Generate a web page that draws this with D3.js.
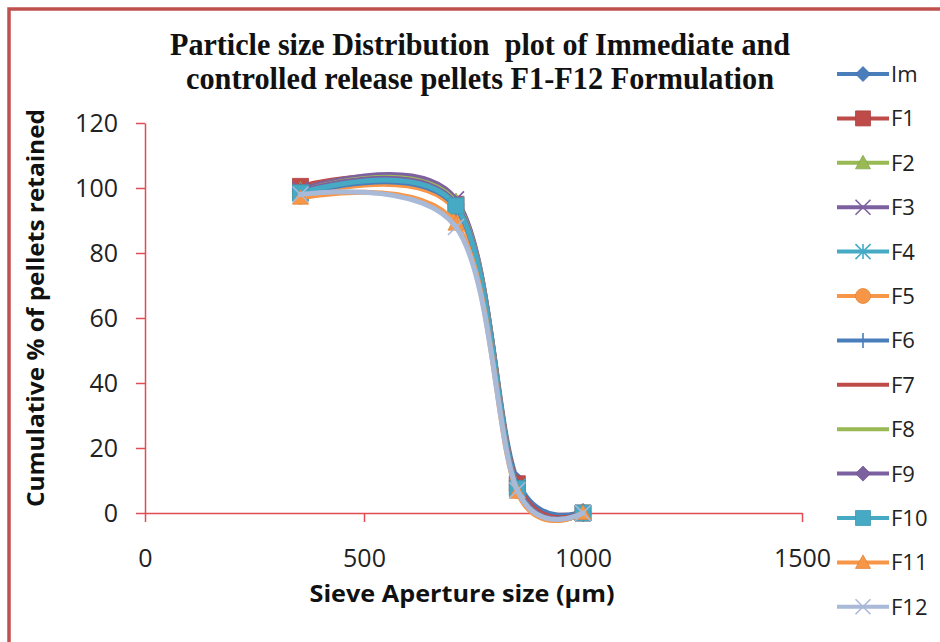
<!DOCTYPE html>
<html>
<head>
<meta charset="utf-8">
<script src="https://cdn.jsdelivr.net/npm/d3@7/dist/d3.min.js"></script>
<style>
  html, body { margin: 0; padding: 0; background: #fff; }
  svg { display: block; }
</style>
</head>
<body>
<svg id="chart" width="940" height="642"></svg>
<script>
// Sieve apertures (µm) and cumulative % retained for each formulation
const sieveSizes = [355, 710, 850, 1000];
const retainedIm  = [99.0, 95.0, 10.0, 0.5];
const retainedF1  = [100.5, 95.0, 9.0, 0];
const retainedF2  = [99.5, 96.0, 8.0, 0];
const retainedF3  = [99.5, 96.5, 8.0, 0];
const retainedF4  = [98.5, 95.0, 8.0, 0];
const retainedF5  = [97.5, 93.0, 7.0, 0];
const retainedF6  = [98.0, 94.0, 8.0, 0];
const retainedF7  = [99.0, 95.0, 8.0, 0];
const retainedF8  = [99.0, 95.5, 8.0, 0];
const retainedF9  = [99.0, 95.0, 8.0, 0];
const retainedF10 = [98.5, 94.5, 7.5, 0];
const retainedF11 = [97.0, 89.0, 6.5, 0];
const retainedF12 = [98.0, 88.0, 7.0, 0];

const seriesNames  = ["Im", "F1", "F2", "F3", "F4", "F5", "F6", "F7", "F8", "F9", "F10", "F11", "F12"];
const seriesValues = [retainedIm, retainedF1, retainedF2, retainedF3, retainedF4, retainedF5,
                      retainedF6, retainedF7, retainedF8, retainedF9, retainedF10, retainedF11, retainedF12];
const seriesColors = ["#4a7ebb", "#be4b48", "#98b954", "#7d60a0", "#46aac5", "#f79646",
                      "#4a7ebb", "#be4b48", "#98b954", "#7d60a0", "#46aac5", "#f79646", "#a9b9d8"];
const seriesMarkers = ["diamond", "square", "triangle", "x", "star", "circle",
                       "plus", "none", "none", "diamond", "square", "triangle", "x"];

const xTicks = [0, 500, 1000, 1500];
const yTicks = [0, 20, 40, 60, 80, 100, 120];

const titleLines = ["Particle size Distribution  plot of Immediate and",
                    "controlled release pellets F1-F12 Formulation"];
const xTitle = "Sieve Aperture size (µm)";
const yTitle = "Cumulative % of pellets retained";

const svg = d3.select("#chart");
const axisColor = "#e14b52";
const frameColor = "#c0504d";
const labelFont = "'Open Sans', 'Noto Sans', sans-serif";

// outer frame (top and left edges)
svg.append("path")
  .attr("d", "M9,642 L9,9 L940,9")
  .attr("fill", "none")
  .attr("stroke", frameColor)
  .attr("stroke-width", 3.5);

// plot area
const plot = { left: 145, right: 802, top: 123, bottom: 513 };
const x = d3.scaleLinear().domain([0, 1500]).range([plot.left, plot.right]);
const y = d3.scaleLinear().domain([0, 120]).range([plot.bottom, plot.top]);

// axes
const xAxis = svg.append("g")
  .attr("transform", `translate(0,${plot.bottom})`)
  .call(d3.axisBottom(x).tickValues(xTicks).tickFormat(d3.format("d"))
    .tickSize(9).tickSizeOuter(0).tickPadding(27));
const yAxis = svg.append("g")
  .attr("transform", `translate(${plot.left},0)`)
  .call(d3.axisLeft(y).tickValues(yTicks).tickFormat(d3.format("d"))
    .tickSize(9).tickSizeOuter(0).tickPadding(18));

[xAxis, yAxis].forEach(g => {
  g.select(".domain").attr("stroke", axisColor).attr("stroke-width", 1.5);
  g.selectAll(".tick line").attr("stroke", axisColor).attr("stroke-width", 1.5);
  g.selectAll(".tick text")
    .attr("fill", "#222")
    .style("font-family", labelFont)
    .style("font-size", "25px");
});
xAxis.selectAll(".tick text").attr("dy", "0.71em");

// marker shapes centred on the origin
function markerPath(type, s) {
  const h = s / 2;
  switch (type) {
    case "diamond": return `M0,${-h}L${h},0L0,${h}L${-h},0Z`;
    case "square": return `M${-h},${-h}H${h}V${h}H${-h}Z`;
    case "triangle": return `M0,${-h}L${h},${h * 0.8}L${-h},${h * 0.8}Z`;
    case "x": return `M${-h},${-h}L${h},${h}M${h},${-h}L${-h},${h}`;
    case "star": return `M${-h},${-h}L${h},${h}M${h},${-h}L${-h},${h}M0,${-h}V${h}`;
    case "plus": return `M0,${-h}V${h}M${-h},0H${h}`;
    case "circle": return `M${h},0A${h},${h} 0 1,1 ${-h},0A${h},${h} 0 1,1 ${h},0Z`;
    default: return "";
  }
}
const strokeMarkers = new Set(["x", "star", "plus"]);

function drawMarker(g, type, color, size) {
  if (type === "none") return;
  const p = g.append("path").attr("d", markerPath(type, size));
  if (strokeMarkers.has(type)) {
    p.attr("fill", "none").attr("stroke", color).attr("stroke-width", 1.6);
  } else {
    p.attr("fill", color).attr("stroke", d3.color(color).darker(0.3)).attr("stroke-width", 0.8);
  }
}

// smoothed series lines and markers
const line = d3.line()
  .x((d, i) => x(sieveSizes[i]))
  .y(d => y(d))
  .curve(d3.curveCardinal.tension(0));

const seriesG = svg.append("g");
seriesValues.forEach((vals, si) => {
  const g = seriesG.append("g");
  g.append("path")
    .datum(vals)
    .attr("d", line)
    .attr("fill", "none")
    .attr("stroke", seriesColors[si])
    .attr("stroke-width", 5)
    .attr("stroke-linejoin", "round")
    .attr("stroke-linecap", "round");
  vals.forEach((v, i) => {
    const m = g.append("g").attr("transform", `translate(${x(sieveSizes[i])},${y(v)})`);
    drawMarker(m, seriesMarkers[si], seriesColors[si], 16);
  });
});

// legend
const legend = svg.append("g");
seriesNames.forEach((name, i) => {
  const row = legend.append("g").attr("transform", `translate(0,${74 + i * 44.4})`);
  row.append("line")
    .attr("x1", 837).attr("x2", 889).attr("y1", 0).attr("y2", 0)
    .attr("stroke", seriesColors[i]).attr("stroke-width", 4);
  const m = row.append("g").attr("transform", "translate(863,0)");
  drawMarker(m, seriesMarkers[i], seriesColors[i], 15);
  row.append("text")
    .attr("x", 891).attr("y", 0).attr("dy", "0.36em")
    .attr("fill", "#222")
    .style("font-family", labelFont)
    .style("font-size", "22px")
    .text(name);
});

// titles
const titleG = svg.append("g");
titleLines.forEach((t, i) => {
  const widths = [620, 588];
  titleG.append("text")
    .attr("x", 480).attr("y", 55 + i * 34)
    .attr("text-anchor", "middle")
    .attr("textLength", widths[i])
    .attr("lengthAdjust", "spacingAndGlyphs")
    .style("white-space", "pre")
    .style("font-family", "'Liberation Serif', 'Times New Roman', serif")
    .style("font-weight", "bold")
    .style("font-size", "31px")
    .attr("fill", "#111")
    .text(t);
});

svg.append("text")
  .attr("x", 462).attr("y", 602)
  .attr("text-anchor", "middle")
  .attr("textLength", 305)
  .attr("lengthAdjust", "spacingAndGlyphs")
  .style("font-family", labelFont)
  .style("font-weight", "bold")
  .style("font-size", "24px")
  .attr("fill", "#111")
  .text(xTitle);

svg.append("text")
  .attr("transform", "translate(44,308) rotate(-90)")
  .attr("text-anchor", "middle")
  .attr("textLength", 398)
  .attr("lengthAdjust", "spacingAndGlyphs")
  .style("font-family", labelFont)
  .style("font-weight", "bold")
  .style("font-size", "24px")
  .attr("fill", "#111")
  .text(yTitle);
</script>
</body>
</html>
